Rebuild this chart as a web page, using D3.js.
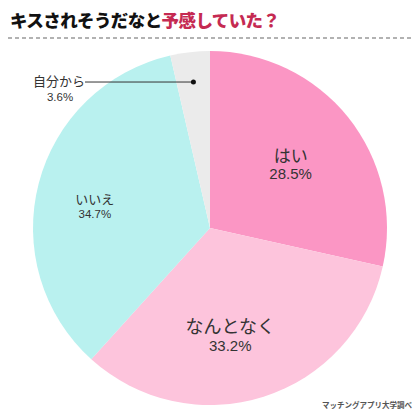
<!DOCTYPE html>
<html>
<head>
<meta charset="utf-8">
<script src="https://cdn.jsdelivr.net/npm/d3@7"></script>
<style>
  body { margin: 0; background: #fff; }
  svg { display: block; font-family: "Noto Sans CJK JP", "Noto Sans", sans-serif; }
</style>
</head>
<body>
<svg id="chart" width="420" height="416"></svg>
<script>
// data
const categories = ["はい", "なんとなく", "いいえ", "自分から"];
const values = [28.5, 33.2, 34.7, 3.6];
const colors = ["#fb96c4", "#fdc4dc", "#b9f1ef", "#ebebeb"];

const svg = d3.select("#chart");
const cx = 210, cy = 228, radius = 177;

// title
const title = svg.append("text")
  .attr("x", 10)
  .attr("y", 27)
  .style("font-size", "17.5px")
  .style("font-weight", "900")
  .style("letter-spacing", "-0.6px");
title.append("tspan").attr("fill", "#111").text("キスされそうだなと");
title.append("tspan").attr("fill", "#c52a52").text("予感していた？");

svg.append("line")
  .attr("x1", 8).attr("x2", 412)
  .attr("y1", 38).attr("y2", 38)
  .attr("stroke", "#999")
  .attr("stroke-width", 1.5)
  .attr("stroke-dasharray", "4,3");

const pie = d3.pie().sort(null).value(d => d);
const arcs = pie(values);
const arc = d3.arc().innerRadius(0).outerRadius(radius);

const g = svg.append("g").attr("transform", `translate(${cx},${cy})`);

g.selectAll("path")
  .data(arcs)
  .join("path")
  .attr("d", arc)
  .attr("fill", (d, i) => colors[i]);

// label positions and sizes per slice
const labelArc = d3.arc().innerRadius(radius * 0.62).outerRadius(radius * 0.62);
const labelStyle = [
  { size: 17, pct: 15, dx: -5, dy: 3, gap: 17 },
  { size: 18, pct: 15, dx: -13, dy: 0, gap: 18 },
  { size: 13, pct: 11.5, dx: -9, dy: 4, gap: 14 }
];

arcs.slice(0, 3).forEach((a, i) => {
  const [x, y] = labelArc.centroid(a);
  const s = labelStyle[i];
  g.append("text")
    .attr("x", x + s.dx).attr("y", y + s.dy)
    .attr("text-anchor", "middle")
    .attr("fill", "#333")
    .style("font-size", s.size + "px")
    .text(categories[i]);
  g.append("text")
    .attr("x", x + s.dx).attr("y", y + s.dy + s.gap)
    .attr("text-anchor", "middle")
    .attr("fill", "#333")
    .style("font-family", "Liberation Sans, Arial, sans-serif")
    .style("font-size", s.pct + "px")
    .text(values[i] + "%");
});

// small slice: leader line to outside label
const small = arcs[3];
const dotArc = d3.arc().innerRadius(radius * 0.83).outerRadius(radius * 0.83);
const [dx, dy] = dotArc.centroid(small);
const lx = 85 - cx;
g.append("line")
  .attr("x1", lx).attr("y1", dy)
  .attr("x2", dx).attr("y2", dy)
  .attr("stroke", "#333")
  .attr("stroke-width", 1);
g.append("circle")
  .attr("cx", dx).attr("cy", dy).attr("r", 2.5)
  .attr("fill", "#111");
g.append("text")
  .attr("x", lx).attr("y", dy + 4)
  .attr("text-anchor", "end")
  .attr("fill", "#333")
  .style("font-size", "13px")
  .text(categories[3]);
g.append("text")
  .attr("x", lx - 25).attr("y", dy + 18.5)
  .attr("text-anchor", "middle")
  .attr("fill", "#333")
  .style("font-family", "Liberation Sans, Arial, sans-serif")
  .style("font-size", "11.5px")
  .text(values[3] + "%");

// source
svg.append("text")
  .attr("x", 412).attr("y", 408)
  .attr("text-anchor", "end")
  .attr("fill", "#555")
  .style("font-size", "7.5px")
  .style("font-weight", "bold")
  .text("マッチングアプリ大学調べ");
</script>
</body>
</html>
